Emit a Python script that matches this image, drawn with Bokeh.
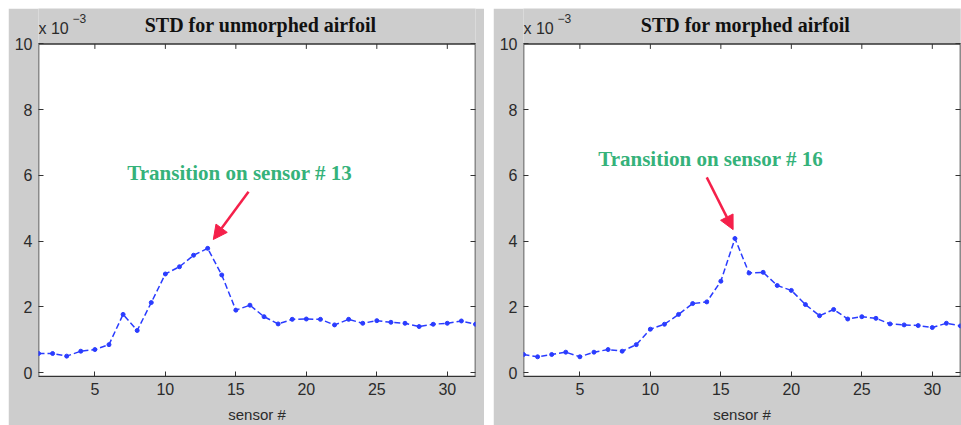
from bokeh.plotting import figure
from bokeh.models import LinearAxis, Range1d, FixedTicker, Label, Arrow, NormalHead, Spacer
from bokeh.layouts import row
from bokeh.embed import file_html
from bokeh.resources import INLINE

sensors = list(range(1, 33))
std_unmorphed = [0.58, 0.58, 0.50, 0.65, 0.70, 0.85, 1.77, 1.28, 2.13, 3.00,
                 3.22, 3.57, 3.78, 2.97, 1.90, 2.05, 1.70, 1.48, 1.62, 1.63,
                 1.62, 1.45, 1.62, 1.50, 1.58, 1.53, 1.50, 1.40, 1.47, 1.50,
                 1.57, 1.47]
std_morphed = [0.55, 0.48, 0.55, 0.62, 0.48, 0.62, 0.70, 0.65, 0.85, 1.32,
               1.47, 1.77, 2.10, 2.15, 2.78, 4.08, 3.03, 3.05, 2.65, 2.50,
               2.07, 1.73, 1.92, 1.63, 1.70, 1.65, 1.48, 1.45, 1.43, 1.37,
               1.50, 1.42]
x_ticks = [5, 10, 15, 20, 25, 30]
y_ticks = [0, 2, 4, 6, 8, 10]
titles = ["STD for unmorphed airfoil", "STD for morphed airfoil"]
notes = ["Transition on sensor # 13", "Transition on sensor # 16"]
scale_text = "x 10"
scale_exp = "\u22123"

X_MIN, X_MAX = 1, 32
Y_MIN, Y_MAX = -0.12, 10.0
Y_CANVAS_TOP = 11.08   # gray strip above the axes box holds the titles

BG = "#cdcdcd"
LINE = "#2a3cff"
GREEN = "#35b27a"
RED = "#f5204a"
TXT = "#2b2b2b"
BOX = "#333333"


def make_panel(title, values, note, note_x, note_y, ax0, ay0, ax1, ay1, width, border_right):
    p = figure(width=width, height=417, output_backend="svg", toolbar_location=None,
               x_range=Range1d(X_MIN, X_MAX), y_range=Range1d(Y_MIN, Y_CANVAS_TOP),
               min_border_left=30, min_border_right=border_right, min_border_top=0,
               min_border_bottom=46)
    p.border_fill_color = BG
    p.background_fill_color = BG
    p.outline_line_color = None
    p.grid.visible = False

    # white axes box
    p.quad(left=[X_MIN], right=[X_MAX], bottom=[Y_MIN], top=[Y_MAX],
           fill_color="white", line_color=BOX, line_width=1.6)

    for ax in p.xaxis + p.yaxis:
        ax.major_tick_in = 5
        ax.major_tick_out = 0
        ax.minor_tick_line_color = None
        ax.major_tick_line_color = BOX
        ax.major_label_text_font = "Liberation Sans"
        ax.major_label_text_font_size = "16px"
        ax.major_label_text_color = TXT
        ax.major_label_standoff = 6
    p.xaxis.axis_line_color = BOX
    p.yaxis.axis_line_color = None
    p.xaxis.ticker = FixedTicker(ticks=x_ticks)
    p.yaxis.ticker = FixedTicker(ticks=y_ticks)
    p.xaxis.axis_label = "sensor #"
    p.xaxis.axis_label_text_font = "Liberation Sans"
    p.xaxis.axis_label_text_font_size = "15px"
    p.xaxis.axis_label_text_font_style = "normal"
    p.xaxis.axis_label_text_color = TXT
    p.xaxis.axis_label_standoff = 8
    p.yaxis.major_label_standoff = 6

    blank_y = {t: "" for t in y_ticks}
    right = LinearAxis(ticker=FixedTicker(ticks=y_ticks), major_tick_in=5, major_tick_out=0,
                       minor_tick_line_color=None, major_label_overrides=blank_y,
                       major_label_standoff=0, axis_line_color=None,
                       major_tick_line_color=BOX)
    p.add_layout(right, "right")
    # top ticks (box on), pointing inward
    p.segment(x0=x_ticks, y0=[Y_MAX] * len(x_ticks), x1=x_ticks,
              y1=[Y_MAX - 0.15] * len(x_ticks), line_color=BOX, line_width=1)

    p.line(sensors, values, line_color=LINE, line_width=1.5, line_dash="6 3")
    p.scatter(sensors, values, size=4, fill_color=LINE, line_color=LINE)

    p.add_layout(Label(x=16.75, y=10.57, text=title, text_font="Liberation Serif",
                       text_font_size="20px", text_font_style="bold", text_color="#111111",
                       text_align="center", text_baseline="middle"))
    p.add_layout(Label(x=X_MIN, y=10.47, text=scale_text, text_font="Liberation Sans",
                       text_font_size="16px", text_color=TXT, text_baseline="middle"))
    p.add_layout(Label(x=3.42, y=10.78, text=scale_exp, text_font="Liberation Sans",
                       text_font_size="12px", text_color=TXT, text_baseline="middle"))

    p.add_layout(Label(x=note_x, y=note_y, text=note, text_font="Liberation Serif",
                       text_font_size="21px", text_font_style="bold", text_color=GREEN,
                       text_baseline="middle", text_align="left"))
    p.add_layout(Arrow(x_start=ax0, y_start=ay0, x_end=ax1, y_end=ay1,
                       line_color=RED, line_width=2.5,
                       end=NormalHead(size=14, fill_color=RED, line_color=RED)))
    return p


p1 = make_panel(titles[0], std_unmorphed, notes[0], 7.3, 6.06, 15.9, 5.5, 13.4, 4.05, 476, 9)
p2 = make_panel(titles[1], std_morphed, notes[1], 6.3, 6.5, 14.0, 5.94, 15.87, 4.35, 468, 1)
layout = row(p1, Spacer(width=9, height=417), p2, margin=(8, 0, 0, 8))

open("out.html", "w").write(file_html(layout, INLINE))
